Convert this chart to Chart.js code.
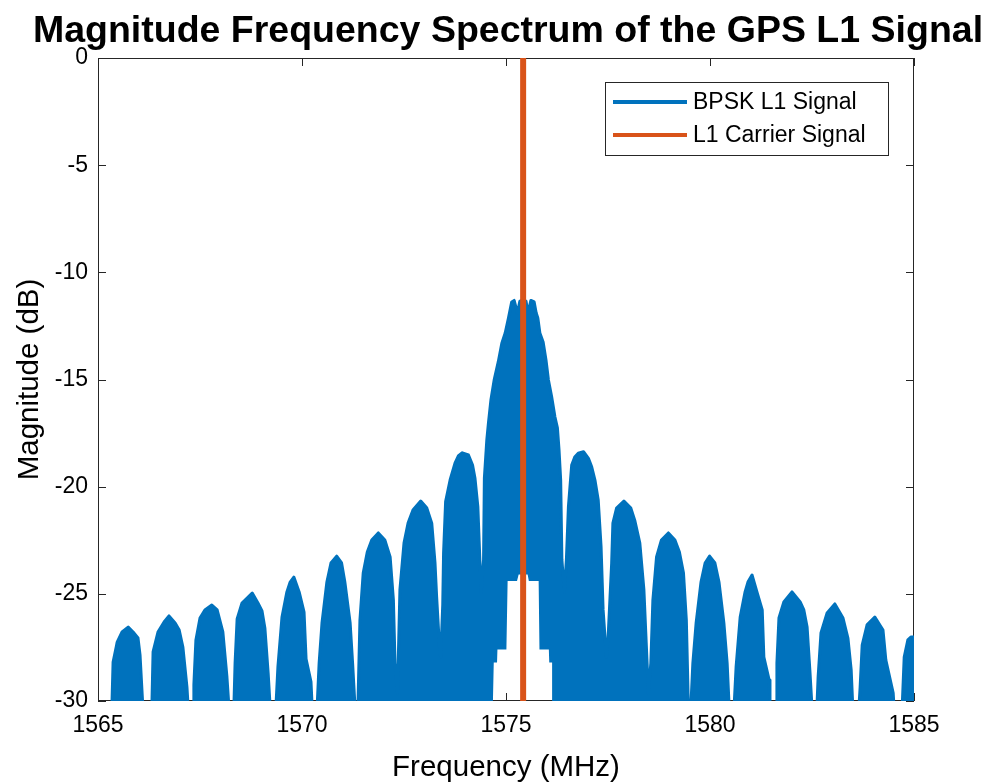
<!DOCTYPE html>
<html>
<head>
<meta charset="utf-8">
<title>Magnitude Frequency Spectrum of the GPS L1 Signal</title>
<script src="https://cdn.jsdelivr.net/npm/chart.js@4.4.1/dist/chart.umd.min.js"></script>
<style>
  html, body { margin: 0; padding: 0; background: #fff; }
  canvas { display: block; }
</style>
</head>
<body>
<canvas id="spectrum" width="982" height="783"></canvas>
<script>
// upper edge of the BPSK spectrum, one array per lobe: [MHz, dB]
// (the trace oscillates too fast to resolve, so each lobe is read as a filled band)
const lobeL9 = [[1565.30, -30.3], [1565.34, -30.3], [1565.37, -28.18], [1565.45, -27.45], [1565.47, -27.25], [1565.59, -26.78], [1565.74, -26.55], [1565.86, -26.78], [1565.98, -27.06], [1566.03, -27.85], [1566.10, -30.3]];
const lobeL8 = [[1566.32, -30.3], [1566.35, -27.71], [1566.47, -26.78], [1566.62, -26.31], [1566.74, -26.03], [1566.89, -26.36], [1566.99, -26.69], [1567.08, -27.48], [1567.18, -29.35], [1567.21, -30.3]];
const lobeL7 = [[1567.33, -30.3], [1567.35, -29.25], [1567.40, -27.15], [1567.50, -26.13], [1567.62, -25.75], [1567.79, -25.52], [1567.92, -25.75], [1568.06, -26.78], [1568.16, -28.88], [1568.21, -30.3]];
const lobeL6 = [[1568.33, -30.3], [1568.36, -28.23], [1568.41, -26.17], [1568.53, -25.43], [1568.78, -24.96], [1568.92, -25.43], [1569.02, -25.80], [1569.09, -26.59], [1569.17, -28.69], [1569.22, -30.3]];
const lobeL5 = [[1569.36, -30.3], [1569.41, -28.41], [1569.51, -26.08], [1569.63, -24.91], [1569.71, -24.45], [1569.80, -24.22], [1569.93, -24.91], [1570.05, -25.85], [1570.10, -28.04], [1570.22, -29.11], [1570.25, -30.3]];
const lobeL4 = [[1570.37, -30.3], [1570.42, -28.23], [1570.49, -26.36], [1570.61, -24.45], [1570.71, -23.56], [1570.85, -23.24], [1570.97, -23.56], [1571.05, -24.45], [1571.18, -26.36], [1571.24, -28.23], [1571.30, -30.3]];
const lobeL3 = [[1571.37, -30.3], [1571.42, -26.22], [1571.50, -24.03], [1571.60, -23.05], [1571.71, -22.49], [1571.87, -22.16], [1572.03, -22.49], [1572.16, -23.28], [1572.24, -25.29], [1572.28, -28.23], [1572.34, -29.63]];
const lobeL2 = [[1572.40, -24.82], [1572.50, -22.63], [1572.60, -21.70], [1572.72, -21.09], [1572.91, -20.67], [1573.06, -21.00], [1573.18, -21.70], [1573.26, -23.56], [1573.30, -25.15], [1573.37, -27.48], [1573.40, -27.95]];
const lobeL1 = [[1573.45, -25.50], [1573.47, -23.10], [1573.52, -20.70], [1573.63, -19.69], [1573.75, -18.90], [1573.83, -18.57], [1573.93, -18.42], [1574.08, -18.52], [1574.18, -18.99], [1574.24, -19.61], [1574.31, -20.93], [1574.35, -22.96], [1574.39, -24.96]];
const mainLobe = [[1574.45, -23.42], [1574.47, -19.60], [1574.53, -17.82], [1574.57, -17.03], [1574.63, -15.96], [1574.71, -15.02], [1574.81, -14.18], [1574.90, -13.29], [1574.98, -12.83], [1575.06, -12.13], [1575.14, -11.38], [1575.20, -11.31], [1575.28, -11.90], [1575.34, -11.34], [1575.42, -11.29], [1575.49, -11.34], [1575.54, -11.90], [1575.61, -11.31], [1575.69, -11.38], [1575.74, -11.90], [1575.78, -12.13], [1575.83, -12.83], [1575.91, -13.25], [1575.98, -14.09], [1576.04, -15.02], [1576.12, -15.82], [1576.20, -16.75], [1576.26, -17.26], [1576.30, -18.29], [1576.34, -19.69], [1576.37, -23.42], [1576.43, -24.91]];
const lobeR1 = [[1576.48, -23.42], [1576.53, -20.93], [1576.61, -18.99], [1576.69, -18.60], [1576.77, -18.44], [1576.90, -18.37], [1577.02, -18.68], [1577.10, -19.07], [1577.18, -19.69], [1577.26, -20.62], [1577.33, -22.80], [1577.38, -25.75], [1577.46, -27.95]];
const lobeR2 = [[1577.50, -27.15], [1577.55, -25.15], [1577.59, -23.56], [1577.62, -21.70], [1577.71, -21.00], [1577.89, -20.67], [1578.06, -21.00], [1578.16, -21.60], [1578.28, -22.63], [1578.38, -24.82], [1578.49, -29.63]];
const lobeR3 = [[1578.55, -28.23], [1578.60, -25.29], [1578.69, -23.28], [1578.81, -22.49], [1578.98, -22.16], [1579.14, -22.49], [1579.25, -23.05], [1579.35, -24.03], [1579.42, -26.22], [1579.47, -30.3]];
const lobeR4 = [[1579.53, -30.3], [1579.58, -28.23], [1579.66, -26.36], [1579.78, -24.45], [1579.88, -23.56], [1579.99, -23.24], [1580.12, -23.56], [1580.22, -24.45], [1580.34, -26.36], [1580.42, -28.23], [1580.47, -30.3]];
const lobeR5 = [[1580.59, -30.3], [1580.64, -28.41], [1580.74, -26.08], [1580.86, -24.91], [1580.93, -24.45], [1581.03, -24.12], [1581.15, -24.91], [1581.28, -25.75], [1581.32, -27.95], [1581.45, -29.02], [1581.47, -30.3]];
const lobeR6 = [[1581.62, -30.3], [1581.64, -28.23], [1581.69, -26.13], [1581.81, -25.38], [1582.01, -24.91], [1582.21, -25.38], [1582.30, -25.75], [1582.38, -26.55], [1582.45, -28.65], [1582.50, -30.3]];
const lobeR7 = [[1582.62, -30.3], [1582.65, -28.88], [1582.72, -26.83], [1582.87, -25.89], [1583.06, -25.47], [1583.26, -26.13], [1583.38, -27.06], [1583.46, -28.55], [1583.50, -30.3]];
const lobeR8 = [[1583.65, -30.3], [1583.68, -29.35], [1583.73, -27.39], [1583.85, -26.45], [1584.04, -26.08], [1584.24, -26.69], [1584.31, -28.09], [1584.49, -29.63], [1584.51, -30.3]];
const lobeR9 = [[1584.71, -30.3], [1584.76, -27.95], [1584.85, -27.15], [1584.93, -27.01], [1585.05, -27.01]];

// lower edge of the band: -30 dB except close to the carrier, where the minima stay higher
const floorFreq = [1565.0, 1574.68, 1574.70, 1574.78, 1574.79, 1575.01, 1575.04, 1575.27, 1575.31, 1575.53, 1575.56, 1575.80, 1575.82, 1576.05, 1576.06, 1576.13, 1576.15, 1585.1];
const floorMag  = [-30, -30, -28.2, -28.2, -27.6, -27.6, -24.4, -24.4, -24.1, -24.1, -24.4, -24.4, -27.6, -27.6, -28.2, -28.2, -30, -30];

// L1 carrier line
const carrierFreq = [1575.42, 1575.42];
const carrierMag  = [-30, 0];

const xTicks = [1565, 1570, 1575, 1580, 1585];
const yTicks = [-30, -25, -20, -15, -10, -5, 0];

const seriesLabels = ['BPSK L1 Signal', 'L1 Carrier Signal'];
const titleText = 'Magnitude Frequency Spectrum of the GPS L1 Signal';
const xTitle = 'Frequency (MHz)';
const yTitle = 'Magnitude (dB)';

const BLUE = '#0072BD';
const ORANGE = '#D95319';
const AXIS = '#262626';
const FONT = "'Liberation Sans', Arial, Helvetica, sans-serif";

const upperPairs = [].concat(lobeL9, lobeL8, lobeL7, lobeL6, lobeL5, lobeL4, lobeL3, lobeL2, lobeL1,
    mainLobe, lobeR1, lobeR2, lobeR3, lobeR4, lobeR5, lobeR6, lobeR7, lobeR8, lobeR9);
const upperPoints = upperPairs.map(p => ({ x: p[0], y: p[1] }));
const floorPoints = floorFreq.map((f, i) => ({ x: f, y: floorMag[i] }));
const carrierPoints = carrierFreq.map((f, i) => ({ x: f, y: carrierMag[i] }));

// MATLAB style box with inward ticks, drawn under the data
const axesBox = {
    id: 'axesBox',
    beforeDatasetsDraw(chart) {
        const { ctx, chartArea: a, scales } = chart;
        const len = 8;
        ctx.save();
        ctx.strokeStyle = AXIS;
        ctx.lineWidth = 1;
        ctx.strokeRect(a.left + 0.5, a.top + 0.5, a.right - a.left - 1, a.bottom - a.top - 1);
        ctx.beginPath();
        xTicks.forEach(v => {
            const x = Math.round(scales.x.getPixelForValue(v)) + 0.5;
            ctx.moveTo(x, a.bottom); ctx.lineTo(x, a.bottom - len);
            ctx.moveTo(x, a.top); ctx.lineTo(x, a.top + len);
        });
        yTicks.forEach(v => {
            const y = Math.round(scales.y.getPixelForValue(v)) + 0.5;
            ctx.moveTo(a.left, y); ctx.lineTo(a.left + len, y);
            ctx.moveTo(a.right, y); ctx.lineTo(a.right - len, y);
        });
        ctx.stroke();
        ctx.restore();
    }
};

// title centred on the axes (it runs past the canvas edge like the original) and a boxed legend
const titleAndLegend = {
    id: 'titleAndLegend',
    afterDraw(chart) {
        const { ctx, chartArea: a } = chart;
        ctx.save();
        ctx.fillStyle = '#000';
        ctx.font = 'bold 37.5px ' + FONT;
        ctx.textAlign = 'center';
        ctx.textBaseline = 'alphabetic';
        ctx.fillText(titleText, (a.left + a.right) / 2 + 2, 42);

        const items = chart.data.datasets.filter(d => d.label);
        const boxW = 283, rowH = 33;
        const boxR = a.right - 26, boxT = a.top + 24;
        const boxL = boxR - boxW, boxH = items.length * rowH + 7;
        ctx.fillStyle = '#fff';
        ctx.fillRect(boxL, boxT, boxW, boxH);
        ctx.strokeStyle = AXIS;
        ctx.lineWidth = 1;
        ctx.strokeRect(boxL + 0.5, boxT + 0.5, boxW, boxH);
        ctx.font = '23px ' + FONT;
        ctx.textAlign = 'left';
        ctx.textBaseline = 'middle';
        items.forEach((d, i) => {
            const y = boxT + 20 + i * rowH;
            ctx.strokeStyle = d.borderColor;
            ctx.lineWidth = 4;
            ctx.beginPath();
            ctx.moveTo(boxL + 8, y);
            ctx.lineTo(boxL + 82, y);
            ctx.stroke();
            ctx.fillStyle = '#000';
            ctx.fillText(d.label, boxL + 88, y + 1);
        });
        ctx.restore();
    }
};

new Chart(document.getElementById('spectrum'), {
    type: 'line',
    data: {
        datasets: [{
            label: seriesLabels[0],
            data: upperPoints,
            borderColor: BLUE,
            backgroundColor: BLUE,
            borderWidth: 3,
            borderJoinStyle: 'round',
            borderCapStyle: 'round',
            fill: 1,
            pointRadius: 0,
            tension: 0,
            order: 2
        }, {
            label: '',
            data: floorPoints,
            borderColor: 'rgba(0,0,0,0)',
            borderWidth: 0,
            pointRadius: 0,
            fill: false,
            order: 3
        }, {
            label: seriesLabels[1],
            data: carrierPoints,
            borderColor: ORANGE,
            backgroundColor: ORANGE,
            borderWidth: 6,
            pointRadius: 0,
            fill: false,
            order: 0
        }]
    },
    options: {
        responsive: false,
        animation: false,
        devicePixelRatio: 1,
        layout: { padding: { left: 0, right: 68, top: 58, bottom: 0 } },
        plugins: {
            legend: { display: false },
            title: { display: false },
            tooltip: { enabled: false }
        },
        scales: {
            x: {
                type: 'linear',
                min: 1565,
                max: 1585,
                afterBuildTicks: s => { s.ticks = xTicks.map(v => ({ value: v })); },
                afterFit: s => { s.height = 82; s.paddingLeft = 0; s.paddingRight = 0; },
                grid: { display: false, drawTicks: false },
                border: { display: false },
                ticks: {
                    color: '#000',
                    font: { family: FONT, size: 23 },
                    padding: 11,
                    maxRotation: 0,
                    autoSkip: false,
                    callback: v => String(v)
                },
                title: {
                    display: true,
                    text: xTitle,
                    color: '#000',
                    font: { family: FONT, size: 29.5, lineHeight: 1 },
                    padding: { top: 0, bottom: 0 }
                }
            },
            y: {
                type: 'linear',
                min: -30,
                max: 0,
                afterBuildTicks: s => { s.ticks = yTicks.map(v => ({ value: v })); },
                afterFit: s => { s.width = 98; s.paddingTop = 0; s.paddingBottom = 0; },
                grid: { display: false, drawTicks: false },
                border: { display: false },
                ticks: {
                    color: '#000',
                    font: { family: FONT, size: 23 },
                    padding: 10,
                    callback: v => String(v)
                },
                title: {
                    display: true,
                    text: yTitle,
                    color: '#000',
                    font: { family: FONT, size: 29.5, lineHeight: 1 },
                    padding: { top: 15, bottom: 0 }
                }
            }
        }
    },
    plugins: [axesBox, titleAndLegend]
});
</script>
</body>
</html>
